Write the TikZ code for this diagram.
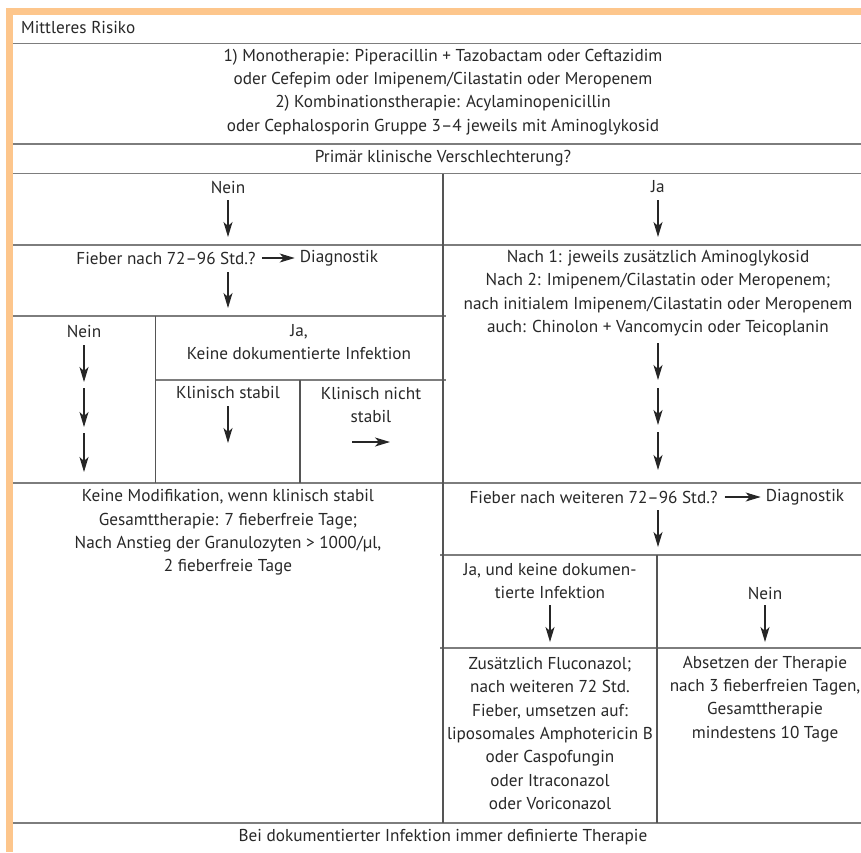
\documentclass[tikz,border=0pt]{standalone}
\usepackage{fontspec}
\setmainfont{PT Sans}
\usetikzlibrary{arrows.meta}
\definecolor{orng}{RGB}{253,198,140}
\definecolor{txtc}{RGB}{40,40,40}
\definecolor{rulec}{RGB}{125,125,125}
\definecolor{vrulec}{RGB}{85,85,85}
\begin{document}
\begin{tikzpicture}[x=1pt,y=-1pt,
  txt/.style={font=\fontsize{17.2}{23.3}\selectfont, text=txtc, inner sep=0pt, align=center},
  arr/.style={-{Stealth[length=15pt,width=9pt,inset=4pt]}, line width=1.1pt, draw=black!85, fill=black!85},
  hrule/.style={draw=rulec, line width=1.8pt},
  vrule/.style={draw=vrulec, line width=1.1pt}]
\useasboundingbox (0,0) rectangle (861,852);
\fill[white] (0,0) rectangle (861,852);
% orange frame
\fill[orng] (6,8) rectangle (861,15);
\fill[orng] (6,8) rectangle (13,852);
% rules
\draw[hrule] (13,43.5) -- (861,43.5);
\draw[hrule] (13,144) -- (861,144);
\draw[hrule] (13,173.5) -- (861,173.5);
\draw[hrule] (13,245) -- (861,245);
\draw[hrule] (13,316) -- (446,316);
\draw[hrule] (155.5,380) -- (446,380);
\draw[hrule] (13,483) -- (861,483);
\draw[hrule] (440,555) -- (861,555);
\draw[hrule] (440,648) -- (861,648);
\draw[hrule] (13,823) -- (861,823);
\draw[vrule] (443,173.5) -- (443,823);
\draw[vrule] (155.5,316) -- (155.5,483);
\draw[vrule] (300,380) -- (300,483);
\draw[vrule] (657,555) -- (657,823);
% texts
\node[txt, anchor=west] (title) at (21,28) {Mittleres Risiko};
\node[txt] (mono) at (443,92) {1) Monotherapie: Piperacillin + Tazobactam oder Ceftazidim\\oder Cefepim oder Imipenem/Cilastatin oder Meropenem\\2) Kombinationstherapie: Acylaminopenicillin\\oder Cephalosporin Gruppe 3–4 jeweils mit Aminoglykosid};
\node[txt] (prim) at (443,158) {Primär klinische Verschlechterung?};
\node[txt] (nein1) at (228,187) {Nein};
\node[txt] (ja1) at (658,187) {Ja};
\node[txt] (fieber1) at (166,258) {Fieber nach 72–96 Std.?};
\node[txt] (diag1) at (339,258) {Diagnostik};
\node[txt] (nein2) at (84,331) {Nein};
\node[txt] (ja2) at (299,342) {Ja,\\Keine dokumentierte Infektion};
\node[txt] (stab) at (228,393) {Klinisch stabil};
\node[txt] (nstab) at (371,405) {Klinisch nicht\\stabil};
\node[txt] (nach) at (658,293) {Nach 1: jeweils zusätzlich Aminoglykosid\\Nach 2: Imipenem/Cilastatin oder Meropenem;\\nach initialem Imipenem/Cilastatin oder Meropenem\\auch: Chinolon + Vancomycin oder Teicoplanin};
\node[txt] (keine) at (228,532.5) {Keine Modifikation, wenn klinisch stabil\\Gesamttherapie: 7 fieberfreie Tage;\\Nach Anstieg der Granulozyten > 1000/µl,\\2 fieberfreie Tage};
\node[txt] (fieber2) at (593.5,497) {Fieber nach weiteren 72–96 Std.?};
\node[txt] (diag2) at (805,497) {Diagnostik};
\node[txt] (jaund) at (550,581) {Ja, und keine dokumen-\\tierte Infektion};
\node[txt] (nein3) at (765,593) {Nein};
\node[txt] (zus) at (550,733.5) {Zusätzlich Fluconazol;\\nach weiteren 72 Std.\\Fieber, umsetzen auf:\\liposomales Amphotericin B\\oder Caspofungin\\oder Itraconazol\\oder Voriconazol};
\node[txt] (abs) at (765,699) {Absetzen der Therapie\\nach 3 fieberfreien Tagen,\\Gesamttherapie\\mindestens 10 Tage};
\node[txt] (bei) at (443,837) {Bei dokumentierter Infektion immer definierte Therapie};
% arrow coordinates
\coordinate (a1s) at (228,200); \coordinate (a1e) at (228,237);
\coordinate (a2s) at (658,200); \coordinate (a2e) at (658,237);
\coordinate (a3s) at (228,272); \coordinate (a3e) at (228,308);
\coordinate (a4s) at (84,345); \coordinate (a4e) at (84,382);
\coordinate (a5s) at (84,388); \coordinate (a5e) at (84,427);
\coordinate (a6s) at (84,433); \coordinate (a6e) at (84,472);
\coordinate (a7s) at (228,406); \coordinate (a7e) at (228,443);
\coordinate (a8s) at (352,442); \coordinate (a8e) at (390,442);
\coordinate (a9s) at (658,343); \coordinate (a9e) at (658,380);
\coordinate (a10s) at (658,388); \coordinate (a10e) at (658,425);
\coordinate (a11s) at (658,432); \coordinate (a11e) at (658,470);
\coordinate (a12s) at (658,510); \coordinate (a12e) at (658,547);
\coordinate (a13s) at (550,605); \coordinate (a13e) at (550,642);
\coordinate (a14s) at (765,605); \coordinate (a14e) at (765,642);
\draw[arr] (a1s) -- (a1e);
\draw[arr] (a2s) -- (a2e);
\draw[arr] (a3s) -- (a3e);
\draw[arr] (a4s) -- (a4e);
\draw[arr] (a5s) -- (a5e);
\draw[arr] (a6s) -- (a6e);
\draw[arr] (a7s) -- (a7e);
\draw[arr] (a8s) -- (a8e);
\draw[arr] (a9s) -- (a9e);
\draw[arr] (a10s) -- (a10e);
\draw[arr] (a11s) -- (a11e);
\draw[arr] (a12s) -- (a12e);
\draw[arr] (a13s) -- (a13e);
\draw[arr] (a14s) -- (a14e);
\draw[arr, shorten <=6pt, shorten >=5pt] (fieber1) -- (diag1);
\draw[arr, shorten <=7pt, shorten >=5pt] (fieber2) -- (diag2);
\end{tikzpicture}
\end{document}
